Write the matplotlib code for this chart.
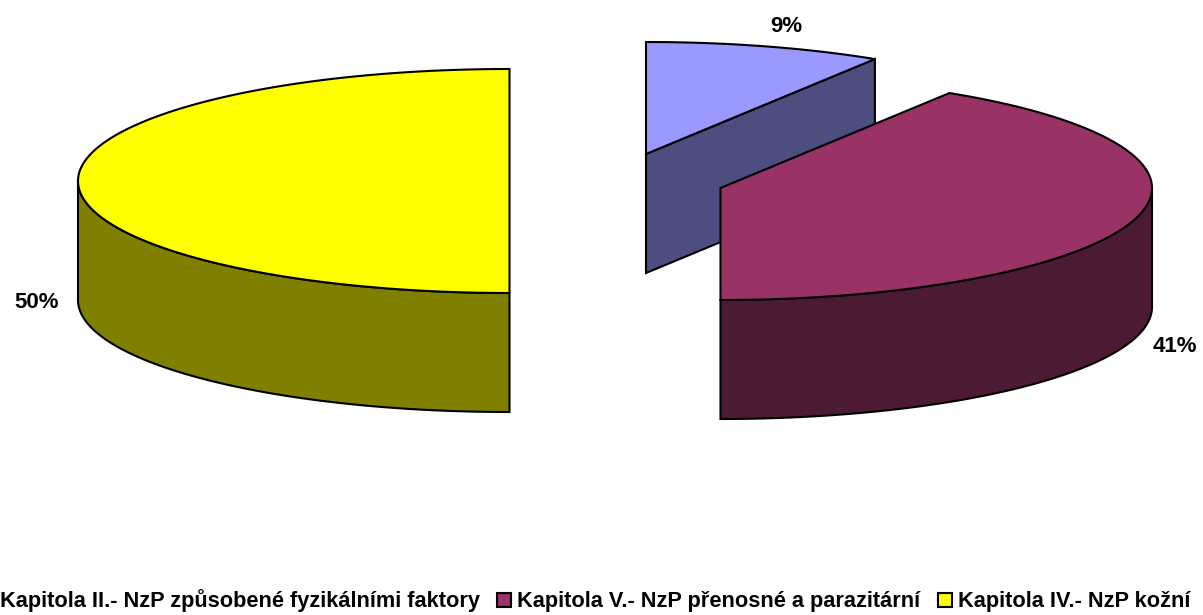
# 3D-look exploded pie, drawn by hand since matplotlib has no 3D pie
import numpy as np
import matplotlib
matplotlib.use("Agg")
import matplotlib.pyplot as plt
from matplotlib.patches import Polygon, Rectangle

plt.rcParams['font.family'] = ['Liberation Sans', 'DejaVu Sans']

categories = ["Kapitola II.- NzP způsobené fyzikálními faktory",
              "Kapitola V.- NzP přenosné a parazitární",
              "Kapitola IV.- NzP kožní"]
shares = [8.9, 41.1, 50]
labels = ["9%", "41%", "50%"]
top_colors = ["#9999FF", "#993366", "#FFFF00"]
side_colors = ["#4D4D80", "#4D1A33", "#808000"]

# pixel layout of the picture
centers = [(646, 154), (720.5, 188), (509.5, 181)]
label_pos = [(786, 27), (1175, 346), (37, 303)]
rx, ry, depth = 431.5, 112, 119
lw = 1.5

fig = plt.figure(figsize=(12.03, 6.15), dpi=100)
ax = fig.add_axes([0, 0, 1, 1])
ax.set_xlim(0, 1203)
ax.set_ylim(615, 0)
ax.axis("off")


def rim(c, a0, a1):
    # angles in degrees, clockwise from the top of the pie
    t = np.radians(np.linspace(a0, a1, 200))
    return np.column_stack([c[0] + rx * np.sin(t), c[1] - ry * np.cos(t)])


starts = np.cumsum([0] + shares[:-1]) * 3.6
ends = np.cumsum(shares) * 3.6
down = np.array([0, depth])

# blue slice: only its cut face shows below the top
c, a0, a1 = centers[0], starts[0], ends[0]
tip = rim(c, a1, a1)[0]
ax.add_patch(Polygon([c, tip, tip + down, np.array(c) + down], fc=side_colors[0], ec="black", lw=lw, zorder=2))
ax.add_patch(Polygon(np.vstack([[c], rim(c, a0, a1)]), fc=top_colors[0], ec="black", lw=lw, zorder=3))

# maroon slice
c, a0, a1 = centers[1], starts[1], ends[1]
front = rim(c, 90, a1)
ax.add_patch(Polygon(np.vstack([front, (front + down)[::-1]]), fc=side_colors[1], ec="black", lw=lw, zorder=4))
ax.add_patch(Polygon(np.vstack([[c], rim(c, a0, a1)]), fc=top_colors[1], ec="black", lw=lw, zorder=5))

# yellow slice
c, a0, a1 = centers[2], starts[2], ends[2]
front = rim(c, a0, 270)
ax.add_patch(Polygon(np.vstack([front, (front + down)[::-1]]), fc=side_colors[2], ec="black", lw=lw, zorder=4))
ax.add_patch(Polygon(np.vstack([[c], rim(c, a0, a1)]), fc=top_colors[2], ec="black", lw=lw, zorder=5))

for (x, y), txt in zip(label_pos, labels):
    ax.text(x, y, txt, fontsize=16, fontweight="bold", ha="center", va="center", color="black")

# legend along the bottom, first swatch falls off the left edge
legend_x = [0, 517, 958]
swatch_x = [-20, 497, 938]
for x, sx, name, col in zip(legend_x, swatch_x, categories, top_colors):
    ax.add_patch(Rectangle((sx, 593), 14, 14, fc=col, ec="black", lw=1.5, zorder=5))
    ax.text(x, 607, name, fontsize=15.7, fontweight="bold", ha="left", va="baseline", color="black")

fig.savefig("out.png", dpi=100)
